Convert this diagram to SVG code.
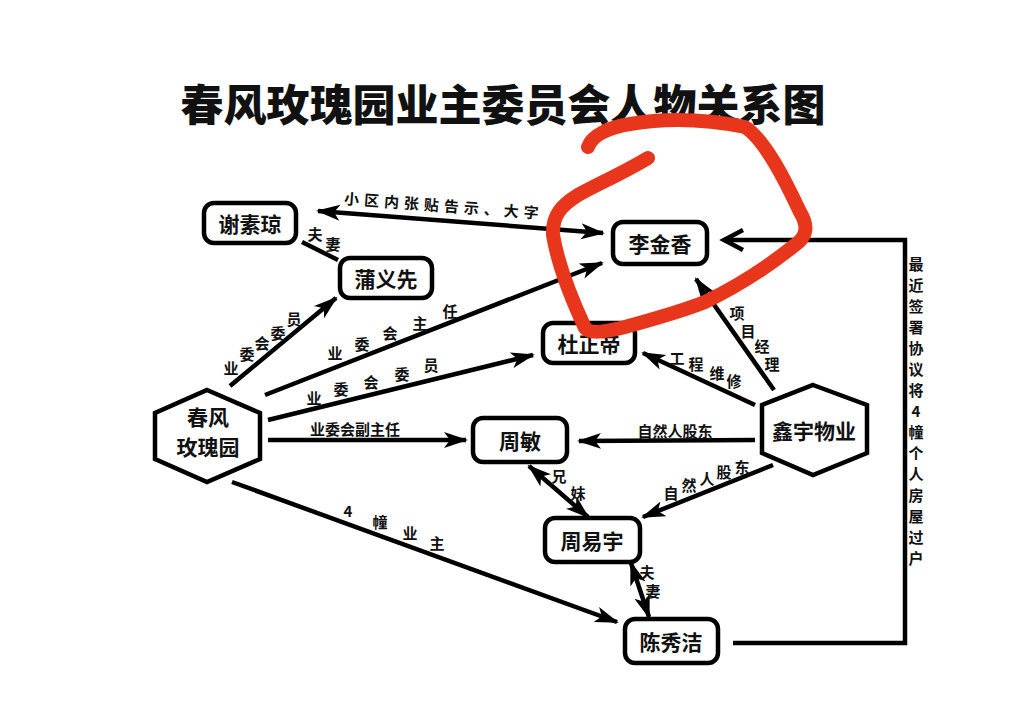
<svg xmlns="http://www.w3.org/2000/svg" width="1030" height="703" viewBox="0 0 1030 703">
<style>
text{font-family:"Noto Sans CJK SC","Noto Sans",sans-serif;fill:#111;text-anchor:middle;dominant-baseline:central}
.title{font-size:43px;font-weight:900}
.nt{font-size:21px;font-weight:700}
.lb{font-size:15px;font-weight:600}
.box{fill:#fff;stroke:#000;stroke-width:4.5}
.ln{fill:none;stroke:#000;stroke-width:4.5}
.red{fill:none;stroke:#e8361d;stroke-width:14;stroke-linecap:round;stroke-linejoin:round}
</style>
<defs>
<marker id="ah" markerUnits="userSpaceOnUse" markerWidth="26" markerHeight="18" refX="22" refY="9" orient="auto-start-reverse" viewBox="0 0 26 18">
<path d="M0,1 L24,9 L0,17 L6,9 z" fill="#000"/>
</marker>
</defs>
<rect width="1030" height="703" fill="#fff"/>
<text class="title" x="503" y="102">春风玫瑰园业主委员会人物关系图</text>

<g id="connectors">
<line class="ln" x1="318" y1="211" x2="603" y2="233" marker-start="url(#ah)" marker-end="url(#ah)"/>
<line class="ln" x1="302" y1="242" x2="338" y2="260"/>
<line class="ln" x1="230" y1="386" x2="336" y2="298" marker-end="url(#ah)"/>
<line class="ln" x1="265" y1="395" x2="602" y2="263" marker-end="url(#ah)"/>
<line class="ln" x1="268" y1="420" x2="533" y2="355" marker-end="url(#ah)"/>
<line class="ln" x1="268" y1="440" x2="466" y2="440" marker-end="url(#ah)"/>
<line class="ln" x1="232" y1="482" x2="617" y2="622" marker-end="url(#ah)"/>
<line class="ln" x1="774" y1="390" x2="696" y2="279" marker-end="url(#ah)"/>
<line class="ln" x1="755" y1="405" x2="643" y2="353" marker-end="url(#ah)"/>
<line class="ln" x1="755" y1="440" x2="579" y2="441" marker-end="url(#ah)"/>
<line class="ln" x1="773" y1="465" x2="643" y2="517" marker-end="url(#ah)"/>
<line class="ln" x1="529" y1="466" x2="588" y2="517" marker-start="url(#ah)" marker-end="url(#ah)"/>
<line class="ln" x1="631" y1="563" x2="649" y2="617" marker-start="url(#ah)" marker-end="url(#ah)"/>
<polyline class="ln" points="733,643 905,643 905,240 724,240"/>
<polyline class="ln" points="743,230 724,240 743,250"/>
</g>

<g id="labels">
<g class="lb" transform="rotate(4.3 444 205)"><text x="444" y="205" letter-spacing="5">小区内张贴告示、大字</text></g>
<text class="lb" x="315" y="233">夫</text><text class="lb" x="333" y="243">妻</text>
<text class="lb" x="231" y="367">业</text><text class="lb" x="247" y="353">委</text><text class="lb" x="262" y="342">会</text><text class="lb" x="278" y="332">委</text><text class="lb" x="294" y="318">员</text>
<text class="lb" x="335" y="352">业</text><text class="lb" x="362" y="343">委</text><text class="lb" x="390" y="332">会</text><text class="lb" x="420" y="322">主</text><text class="lb" x="450" y="310">任</text>
<text class="lb" x="314" y="397">业</text><text class="lb" x="341" y="388">委</text><text class="lb" x="371" y="381">会</text><text class="lb" x="402" y="373">委</text><text class="lb" x="431" y="364">员</text>
<text class="lb" x="355" y="428">业委会副主任</text>
<text class="lb" x="348" y="510">4</text><text class="lb" x="380" y="521">幢</text><text class="lb" x="410" y="532">业</text><text class="lb" x="437" y="542">主</text>
<text class="lb" x="737" y="312">项</text><text class="lb" x="748" y="330">目</text><text class="lb" x="762" y="345">经</text><text class="lb" x="772" y="363">理</text>
<text class="lb" x="677" y="357">工</text><text class="lb" x="696" y="363">程</text><text class="lb" x="717" y="372">维</text><text class="lb" x="734" y="380">修</text>
<text class="lb" x="675" y="430">自然人股东</text>
<text class="lb" x="671" y="492">自</text><text class="lb" x="689" y="484">然</text><text class="lb" x="707" y="478">人</text><text class="lb" x="724" y="471">股</text><text class="lb" x="742" y="466">东</text>
<text class="lb" x="559" y="475">兄</text><text class="lb" x="578" y="492">妹</text>
<text class="lb" x="647" y="571">夫</text><text class="lb" x="653" y="590">妻</text>
<g class="lb" font-weight="700">
<text x="916" y="263">最</text><text x="916" y="284">近</text><text x="916" y="305">签</text><text x="916" y="326">署</text><text x="916" y="347">协</text><text x="916" y="368">议</text><text x="916" y="389">将</text><text x="916" y="410">4</text><text x="916" y="431">幢</text><text x="916" y="452">个</text><text x="916" y="473">人</text><text x="916" y="494">房</text><text x="916" y="515">屋</text><text x="916" y="536">过</text><text x="916" y="557">户</text>
</g>
</g>

<g id="n-xiesuqiong"><rect class="box" x="204" y="203" width="92" height="40" rx="10"/><text class="nt" x="250" y="223">谢素琼</text></g>
<g id="n-puyixian"><rect class="box" x="340" y="258" width="92" height="40" rx="10"/><text class="nt" x="386" y="278">蒲义先</text></g>
<g id="n-lijinxiang"><rect class="box" x="613" y="222" width="94" height="42" rx="10"/><text class="nt" x="660" y="243">李金香</text></g>
<g id="n-duzhengdi"><rect class="box" x="543" y="323" width="92" height="40" rx="10"/><text class="nt" x="589" y="343">杜正帝</text></g>
<g id="n-zhoumin"><rect class="box" x="473" y="418" width="94" height="44" rx="10"/><text class="nt" x="520" y="440">周敏</text></g>
<g id="n-zhouyiyu"><rect class="box" x="545" y="518" width="95" height="44" rx="10"/><text class="nt" x="592" y="540">周易宇</text></g>
<g id="n-chenxiujie"><rect class="box" x="625" y="619" width="93" height="44" rx="10"/><text class="nt" x="671" y="641">陈秀洁</text></g>
<g id="n-chunfeng"><polygon class="box" points="207,390 260,413 260,459 207,482 155,459 155,413"/><text class="nt" x="208" y="416" font-size="20">春风</text><text class="nt" x="208" y="446" font-size="20">玫瑰园</text></g>
<g id="n-xinyu"><polygon class="box" points="813,385 867,405 867,453 813,475 762,453 762,405"/><text class="nt" x="814" y="430">鑫宇物业</text></g>

<path class="red" d="M588,147 C592,135 610,127 630,124 C660,119 700,118 745,127 C765,140 785,180 800,212 C810,228 805,238 795,245 C770,265 740,285 705,302 C680,312 650,320 625,327 C605,332 590,334 585,328 C572,300 558,265 553,235 C552,215 562,205 578,195 C600,183 625,172 648,158"/>
</svg>
